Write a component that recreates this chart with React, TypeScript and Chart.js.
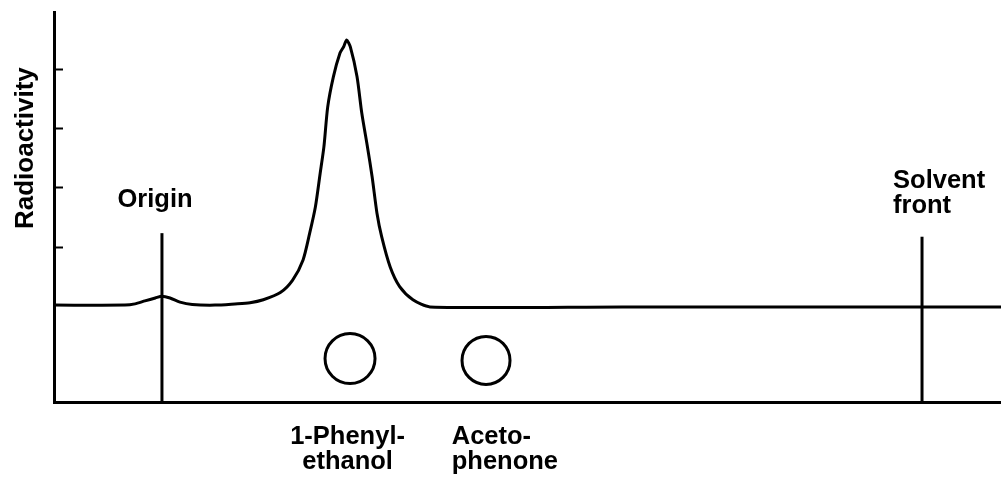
import React, { useEffect, useRef } from "react";
import { Chart, registerables } from "chart.js";

Chart.register(...registerables);

// ---- data (x: migration distance, arbitrary units 0-100; y: radioactivity) ----
const X_MIN = 0;
const X_MAX = 100;
const Y_MIN = -1.6;
const Y_MAX = 4.96;
const yTickValues = [1, 2, 3, 4];

const traceX = [
  0, 7.5, 8.55, 9.6, 10.7, 11.4, 12.25, 13.3, 14.6, 17.0, 19.1, 20.7, 22.1, 23.9,
  25.2, 26.3, 27.0, 27.6, 28.1, 28.5, 28.9, 29.5, 30.2, 30.6, 30.9, 31.3, 32.0,
  32.5, 33.1, 33.6, 34.1, 34.6, 35.5, 36.5, 37.9, 39.7, 60, 100,
];
const traceY = [
  0.03, 0.03, 0.05, 0.1, 0.15, 0.18, 0.15, 0.08, 0.04, 0.03, 0.05, 0.07, 0.12, 0.24,
  0.45, 0.79, 1.24, 1.68, 2.24, 2.69, 3.36, 3.87, 4.27, 4.38, 4.49, 4.37, 3.87,
  3.26, 2.69, 2.18, 1.58, 1.18, 0.67, 0.34, 0.12, 0.0, 0.0, 0.0,
];

const originX = 11.4;
const originTop = 1.24;
const solventX = 91.66;
const solventTop = 1.18;

const spotX = [31.26, 45.62];
const spotY = [-0.87, -0.9];
const spotR = [25, 24];

const labelTexts = [["Origin"], ["Solvent", "front"], ["1-Phenyl-", "ethanol"], ["Aceto-", "phenone"]];
const labelX = [10.67, 88.6, 31.0, 42.0];
const labelY = [1.68, 2.0, -2.3, -2.3];
const labelAlign: CanvasTextAlign[] = ["center", "left", "center", "left"];

const yTitle = "Radioactivity";
const yTitleX = -2.22;
const yTitleY = 2.67;

const FONT = 'bold 25.5px "Liberation Sans", Arial, sans-serif';
const TITLE_FONT = 'bold 26px "Liberation Sans", Arial, sans-serif';
const LINE_H = 25;

const textPlugin = {
  id: "tlcLabels",
  afterDraw(chart: any) {
    const { ctx, scales } = chart;
    const xs = scales.x;
    const ys = scales.y;
    ctx.save();
    ctx.fillStyle = "#000";
    ctx.font = FONT;
    ctx.textBaseline = "alphabetic";
    labelTexts.forEach((lines, i) => {
      ctx.textAlign = labelAlign[i];
      const px = xs.getPixelForValue(labelX[i]);
      const py = ys.getPixelForValue(labelY[i]);
      lines.forEach((ln, j) => ctx.fillText(ln, px, py + j * LINE_H));
    });
    ctx.font = TITLE_FONT;
    ctx.translate(xs.getPixelForValue(yTitleX), ys.getPixelForValue(yTitleY));
    ctx.rotate(-Math.PI / 2);
    ctx.textAlign = "center";
    ctx.fillText(yTitle, 0, 0);
    ctx.restore();
  },
};

export default function App() {
  const ref = useRef<HTMLCanvasElement | null>(null);

  useEffect(() => {
    if (!ref.current) return;
    const black = "#000";
    const chart = new Chart(ref.current, {
      type: "line",
      data: {
        datasets: [
          {
            label: "trace",
            data: traceX.map((x, i) => ({ x, y: traceY[i] })),
            borderColor: black,
            borderWidth: 3,
            pointRadius: 0,
            tension: 0.25,
            fill: false,
          },
          {
            label: "origin",
            data: [
              { x: originX, y: Y_MIN },
              { x: originX, y: originTop },
            ],
            borderColor: black,
            borderWidth: 3,
            pointRadius: 0,
          },
          {
            label: "solvent",
            data: [
              { x: solventX, y: Y_MIN },
              { x: solventX, y: solventTop },
            ],
            borderColor: black,
            borderWidth: 3,
            pointRadius: 0,
          },
          {
            label: "spots",
            type: "scatter",
            data: spotX.map((x, i) => ({ x, y: spotY[i] })),
            showLine: false,
            pointRadius: spotR,
            pointHoverRadius: spotR,
            pointBorderWidth: 3,
            pointBorderColor: black,
            pointBackgroundColor: "rgba(255,255,255,0)",
          } as any,
        ],
      },
      options: {
        responsive: false,
        animation: false,
        events: [],
        layout: { autoPadding: false, padding: { left: 54, top: 12, right: 0, bottom: 78 } },
        plugins: { legend: { display: false }, tooltip: { enabled: false } },
        scales: {
          x: {
            type: "linear",
            min: X_MIN,
            max: X_MAX,
            grid: { display: false, drawTicks: false },
            ticks: { display: false },
            border: { display: true, width: 3, color: black },
            afterFit: (s: any) => {
              s.height = 0;
            },
          },
          y: {
            type: "linear",
            min: Y_MIN,
            max: Y_MAX,
            grid: {
              display: true,
              drawOnChartArea: false,
              drawTicks: true,
              tickLength: -9,
              tickWidth: 2,
              color: black,
            },
            ticks: { display: false },
            border: { display: true, width: 3, color: black },
            afterBuildTicks: (s: any) => {
              s.ticks = yTickValues.map((v) => ({ value: v }));
            },
            afterFit: (s: any) => {
              s.width = 0;
            },
          },
        },
      } as any,
      plugins: [textPlugin],
    });
    return () => chart.destroy();
  }, []);

  return (
    <div style={{ position: "fixed", left: 0, top: 0, width: 1001, height: 480, background: "#fff" }}>
      <canvas ref={ref} width={1001} height={480} style={{ display: "block" }} />
    </div>
  );
}
